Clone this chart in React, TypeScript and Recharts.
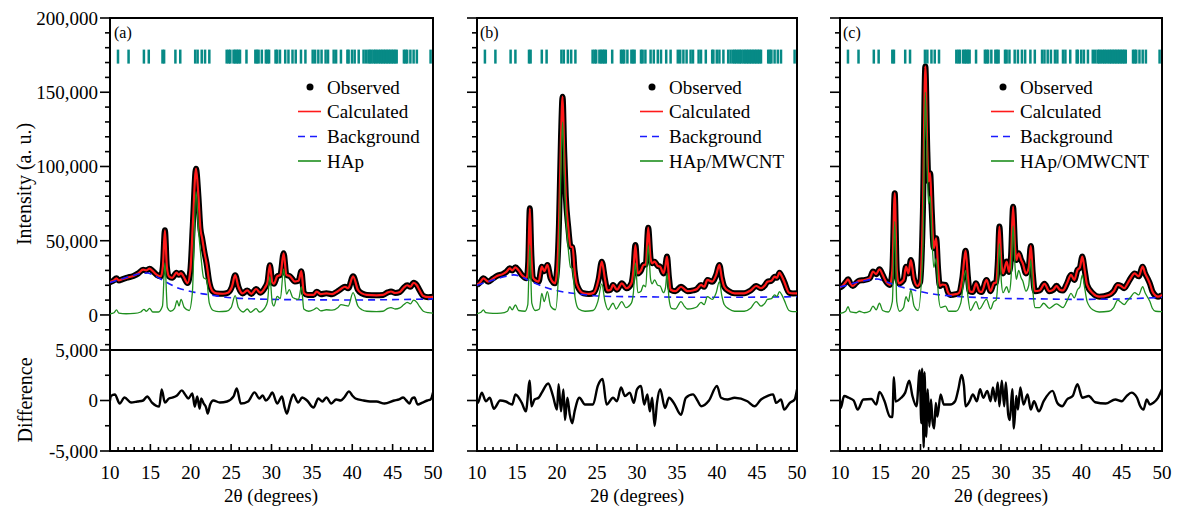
import React from 'react';
import { ComposedChart, LineChart, Line, XAxis, YAxis, Scatter, ReferenceArea } from 'recharts';

type P = [number, number][];

// ---------- common ----------
const X_TICKS = [10,11,12,13,14,15,16,17,18,19,20,21,22,23,24,25,26,27,28,29,30,31,32,33,34,35,36,37,38,39,40,41,42,43,44,45,46,47,48,49,50];
const Y_TICKS_TOP = [-20000,-10000,0,10000,20000,30000,40000,50000,60000,70000,80000,90000,100000,110000,120000,130000,140000,150000,160000,170000,180000,190000,200000];
const Y_TICKS_DIFF = [-5000,-2500,0,2500,5000];
const BRAGG = [10.99,12.3,14.2,14.8,16.5,16.7,18.1,18.7,20.55,20.85,21.36,21.77,22.3,24.45,24.7,24.9,25.3,25.5,25.7,25.9,26.1,26.9,28.0,28.2,28.4,28.8,29.3,29.5,29.7,30.5,30.7,31.05,31.7,32.1,32.6,33.0,33.65,34.2,35.1,35.4,35.8,36.2,36.7,37.0,37.7,38.0,38.6,39.4,39.55,39.97,40.3,40.8,41.4,41.7,42.0,42.2,42.4,42.65,42.85,43.05,43.3,43.5,43.7,43.9,44.1,44.3,44.5,44.7,44.9,45.1,45.3,45.5,46.4,46.6,46.8,47.2,47.6,48.0,49.7];
const BRAGG_LEVEL = 174000;

// ---------- panel (a) HAp ----------
const OBS_A: P = [[10.0,22000],[10.4,23000],[10.8,24700],[11.1,23200],[11.5,24000],[12.2,25200],[12.9,26300],[13.5,28000],[14.1,30500],[14.5,30000],[14.9,31200],[15.3,29500],[15.8,27000],[16.3,26000],[16.55,33000],[16.8,57000],[17.05,32000],[17.3,26000],[17.7,25000],[18.25,28500],[18.5,27000],[18.8,28200],[19.1,26000],[19.6,21500],[19.95,30000],[20.25,60000],[20.65,98500],[20.95,80000],[21.2,58000],[21.4,52000],[21.7,42000],[21.95,35000],[22.3,22000],[22.7,16000],[23.2,14500],[24.0,14300],[24.6,15000],[25.1,19000],[25.5,26800],[25.9,19000],[26.4,14500],[27.0,16500],[27.5,14200],[28.1,17500],[28.6,15000],[29.2,18500],[29.5,22000],[29.8,33500],[30.1,22000],[30.3,21000],[30.7,26000],[31.1,27000],[31.5,41500],[31.85,27000],[32.3,26000],[32.9,22500],[33.35,23000],[33.7,29500],[34.0,15000],[34.5,13500],[35.2,13500],[35.6,15700],[36.1,14000],[36.8,14600],[37.5,14000],[38.2,16000],[38.6,17500],[39.1,19000],[39.5,18000],[40.1,26000],[40.7,17000],[41.2,14500],[41.8,13500],[43.0,13200],[43.8,13500],[44.4,15200],[44.8,15800],[45.3,14800],[45.9,15500],[46.4,18500],[46.8,20000],[47.2,19000],[47.6,21700],[48.0,20000],[48.3,17000],[48.8,12800],[49.4,12000],[50.0,12200]];
const CALC_A: P = OBS_A;
const BG_A: P = [[10,21800],[11,23500],[12,25200],[13,26800],[14,28000],[14.6,28300],[15.5,26500],[16.5,23500],[17.5,20500],[18.5,18000],[19.5,16500],[20.5,15200],[21.5,14200],[23,13000],[25,11600],[27.5,10900],[30,10500],[35,10200],[40,10100],[45,10300],[50,10800]];
const PHASE_A: P = [[10,800],[10.5,1500],[10.8,3400],[11.1,1200],[12,800],[13,1000],[13.8,2000],[14.2,3800],[14.5,2500],[14.9,4500],[15.3,2000],[16.0,2000],[16.5,6000],[16.8,35000],[17.1,5000],[17.5,2500],[18.0,4500],[18.3,9600],[18.55,6000],[18.8,10500],[19.2,5000],[19.8,3000],[20.2,15000],[20.65,83000],[20.95,58000],[21.25,40000],[21.6,25000],[21.95,24000],[22.3,8000],[22.8,3000],[23.5,2200],[24.4,2500],[25.0,5000],[25.5,13000],[25.9,5000],[26.5,2000],[27.0,4000],[27.4,1800],[28.1,4200],[28.5,2000],[29.2,5000],[29.5,9000],[29.8,25800],[30.1,8000],[30.3,6000],[30.7,12500],[31.1,11000],[31.5,31000],[31.85,14000],[32.2,17000],[32.6,12000],[32.9,11000],[33.35,10500],[33.7,19000],[34.0,4000],[34.6,2500],[35.2,3500],[35.6,4800],[36.1,2800],[36.8,3500],[37.5,3200],[38.2,4800],[38.6,7000],[39.1,6500],[39.5,6000],[40.1,15000],[40.7,6000],[41.2,3500],[41.8,2500],[43.0,2200],[43.8,2500],[44.4,4500],[44.8,5000],[45.3,4000],[45.9,4800],[46.4,7000],[46.8,8500],[47.2,7500],[47.6,10000],[48.0,8500],[48.3,6000],[48.8,2500],[49.4,1500],[50,1200]];
const DIFF_A: P = [[10.0,0],[10.1,430],[10.6,600],[11.2,-300],[11.8,300],[12.6,-200],[13.4,-100],[14.1,0],[14.6,400],[15.2,-200],[16.1,-600],[16.4,1100],[16.8,-200],[17.3,200],[17.8,300],[18.3,500],[18.9,1000],[19.3,600],[19.7,200],[20.2,700],[20.5,-600],[20.8,400],[21.1,-800],[21.3,200],[21.6,-300],[21.9,-700],[22.1,-1300],[22.4,-400],[22.8,0],[23.6,-200],[24.5,-100],[25.3,400],[25.7,1200],[26.2,-300],[27.1,-100],[27.9,800],[28.5,200],[28.9,500],[29.3,0],[29.7,300],[30.1,800],[30.7,-300],[31.3,400],[31.6,-600],[31.9,-1300],[32.3,-200],[32.7,600],[33.3,-200],[33.8,300],[34.4,0],[35.2,-700],[35.8,200],[36.3,-100],[36.8,300],[37.4,-300],[38.0,100],[38.6,0],[39.0,300],[39.6,900],[40.0,500],[40.4,200],[41.4,0],[42.2,-100],[43.0,-100],[44.0,-300],[45.2,0],[45.8,100],[46.3,300],[46.7,0],[47.1,-300],[47.4,200],[47.7,300],[48.1,-400],[48.7,-200],[49.3,0],[49.7,100],[50.0,800]];

// ---------- panel (b) HAp/MWCNT ----------
const OBS_B: P = [[10.0,20200],[10.4,22000],[10.8,24700],[11.4,22400],[12.0,24500],[12.5,26300],[13.2,27500],[13.7,29200],[14.1,31400],[14.4,30000],[14.8,32100],[15.2,30000],[15.6,26900],[16.2,24700],[16.4,35000],[16.6,71800],[16.8,40000],[17.0,25000],[17.4,23000],[17.7,22400],[18.1,32500],[18.4,29500],[18.8,33700],[19.2,24700],[19.75,21300],[20.0,30000],[20.25,62000],[20.5,120000],[20.7,147000],[20.9,110000],[21.1,80000],[21.4,59500],[21.7,46000],[21.95,45600],[22.2,30000],[22.5,20200],[23.3,14600],[24.0,14200],[24.6,15000],[25.2,24000],[25.6,35900],[26.0,24000],[26.3,16500],[26.7,17000],[27.0,20200],[27.5,17000],[28.1,21300],[28.7,18000],[29.3,21300],[29.55,30000],[29.8,47100],[30.1,28000],[30.5,30000],[30.8,33700],[31.1,34000],[31.4,58800],[31.7,38000],[31.9,34800],[32.2,35900],[32.6,33000],[32.9,32500],[33.3,28000],[33.55,33000],[33.75,39300],[34.0,25000],[34.2,17000],[34.8,16000],[35.5,19000],[35.9,17500],[36.3,16000],[37.0,16500],[37.5,17500],[38.0,20200],[38.4,19000],[38.8,23600],[39.4,22400],[39.9,27000],[40.3,33700],[40.6,25000],[40.9,19000],[41.5,16000],[42.2,14600],[43.4,14600],[44.2,16500],[44.9,19500],[45.5,18000],[46.0,20000],[46.3,22400],[46.8,23000],[47.2,25800],[47.5,25000],[47.8,28500],[48.1,26000],[48.4,22400],[49.0,15000],[49.5,14500],[50.0,14600]];
const CALC_B: P = OBS_B;
const BG_B: P = [[10,20000],[11,21800],[12,23500],[13,25200],[14,26500],[14.6,27000],[15.5,25800],[16.5,23200],[17.5,20800],[18.5,18600],[19.5,17000],[20.5,15800],[22,14600],[23.5,13600],[25,12800],[27.5,12400],[30,12300],[35,12000],[40,11900],[45,12000],[50,12300]];
const PHASE_B: P = [[10,900],[10.5,1800],[10.8,3400],[11.1,1500],[12,1000],[13,1200],[13.8,2500],[14.1,5600],[14.4,3500],[14.8,6700],[15.2,3000],[16.0,2500],[16.35,7000],[16.6,47000],[16.85,8000],[17.3,3000],[17.8,4000],[18.1,14600],[18.4,9000],[18.8,15700],[19.2,6000],[19.8,3500],[20.2,30000],[20.5,100000],[20.7,130000],[20.9,95000],[21.1,68000],[21.4,45000],[21.7,32000],[21.95,31000],[22.25,12000],[22.7,4000],[23.5,2500],[24.5,3000],[25.1,9000],[25.6,21000],[26.0,9000],[26.4,3500],[27.0,7900],[27.4,4000],[28.1,9000],[28.6,5000],[29.3,8000],[29.55,15000],[29.8,35000],[30.1,15000],[30.5,16000],[30.8,20000],[31.1,19000],[31.4,47000],[31.7,24000],[31.9,21000],[32.2,23600],[32.6,20000],[32.9,19500],[33.3,15000],[33.55,18000],[33.75,28000],[34.0,11000],[34.3,4500],[34.8,4000],[35.5,9000],[35.9,6000],[36.3,4000],[37.0,4500],[37.5,5500],[38.0,8500],[38.4,7000],[38.8,12300],[39.4,10500],[39.9,15000],[40.3,22400],[40.6,13000],[40.9,7000],[41.5,4000],[42.2,2500],[43.4,2500],[44.2,4500],[44.9,9000],[45.5,6000],[46.0,8000],[46.3,10500],[46.8,11000],[47.2,13500],[47.5,12500],[47.8,15700],[48.1,13500],[48.4,10000],[49.0,3000],[49.5,2200],[50,2200]];
const DIFF_B: P = [[10.0,0],[10.1,-240],[10.6,780],[11.1,-70],[11.6,270],[12.1,-810],[12.9,0],[13.6,-100],[14.4,-400],[14.8,600],[15.6,-240],[16.1,-1080],[16.6,1960],[16.8,-570],[17.2,100],[17.7,270],[18.1,780],[18.9,1690],[19.5,440],[20.0,-900],[20.2,1620],[20.5,-1080],[20.8,1100],[21.0,-1930],[21.3,270],[21.6,-1420],[21.9,-2260],[22.2,-1080],[22.8,270],[23.5,-400],[24.5,-400],[25.1,1450],[25.7,2130],[26.2,-400],[27.0,270],[27.5,-70],[28.0,1280],[28.5,440],[29.1,780],[29.6,-240],[30.0,1110],[30.5,1450],[30.9,-400],[31.3,610],[31.6,-1080],[31.9,270],[32.2,-2530],[32.5,-240],[32.9,1110],[33.5,-740],[34.0,270],[34.6,-240],[35.5,-1420],[36.1,270],[37.0,610],[37.6,-70],[38.0,-570],[39.0,0],[40.0,1450],[40.5,270],[41.3,100],[42.2,270],[43.8,-70],[44.7,-570],[45.5,100],[46.3,440],[47.0,610],[47.4,-240],[48.0,100],[48.4,-900],[49.1,-240],[49.7,100],[50.0,1100]];

// ---------- panel (c) HAp/OMWCNT ----------
const OBS_C: P = [[10.0,18500],[10.3,19500],[10.7,22000],[11.0,24000],[11.3,21000],[11.6,19500],[12.0,21500],[12.4,23100],[13.0,23500],[13.7,24700],[14.1,29200],[14.5,27500],[14.9,30800],[15.3,27000],[15.6,23500],[16.2,20200],[16.5,30000],[16.8,82000],[17.05,30000],[17.3,21300],[17.9,23600],[18.2,32500],[18.5,28000],[18.8,37000],[19.2,24000],[19.6,19500],[19.95,22000],[20.3,70000],[20.6,167500],[20.85,110000],[21.0,90000],[21.2,95500],[21.4,70000],[21.65,45000],[21.95,51600],[22.2,30000],[22.4,19500],[22.7,20500],[23.1,20200],[23.4,15500],[23.7,13500],[24.4,14000],[24.8,15000],[25.2,25000],[25.6,43300],[25.9,25000],[26.1,16000],[26.5,15500],[26.9,21300],[27.3,16000],[27.6,15500],[28.2,23600],[28.7,16000],[29.1,21300],[29.4,22000],[29.6,35000],[29.8,59500],[30.05,35000],[30.25,28000],[30.7,36000],[31.0,29000],[31.25,40000],[31.5,72900],[31.75,45000],[31.9,37000],[32.2,41500],[32.5,37000],[32.7,34800],[33.1,28000],[33.45,32000],[33.7,46500],[33.95,28000],[34.2,16000],[34.8,16500],[35.4,21000],[36.0,16000],[36.5,17000],[36.9,19600],[37.3,17000],[37.7,16500],[38.2,21300],[38.7,27000],[39.1,23600],[39.5,30300],[39.8,32000],[40.1,39300],[40.4,30000],[40.7,20200],[41.4,14600],[42.2,12300],[43.4,13500],[44.0,16000],[44.5,20200],[44.9,19500],[45.3,18000],[45.7,21000],[46.1,24700],[46.6,28000],[47.1,26000],[47.6,32500],[47.9,28000],[48.2,24700],[48.5,21000],[48.8,16000],[49.2,13000],[49.5,12300],[50.0,13500]];
const CALC_C: P = OBS_C;
const BG_C: P = [[10,18800],[11,20300],[12,21800],[13,23000],[14,24000],[14.6,24200],[15.5,22800],[16.5,20800],[17.5,19000],[18.5,17600],[19.5,16300],[21,14600],[23,13200],[25,12300],[27.5,11700],[30,11200],[35,10800],[40,10500],[45,10800],[50,11900]];
const PHASE_C: P = [[10,1000],[10.7,2500],[11.0,5600],[11.3,2000],[12.0,1500],[12.4,2500],[13.0,1500],[13.7,2500],[14.1,6000],[14.5,3500],[14.9,7900],[15.3,3000],[16.0,2000],[16.5,9000],[16.8,63000],[17.05,9000],[17.4,2500],[17.9,5000],[18.2,12300],[18.5,9000],[18.8,16800],[19.2,6000],[19.7,3000],[20.3,45000],[20.6,150000],[20.85,95000],[21.0,75000],[21.2,80000],[21.4,55000],[21.65,32000],[21.95,38000],[22.2,15000],[22.5,5000],[23.1,6000],[23.5,2500],[24.4,2500],[25.0,8000],[25.6,30000],[25.9,12000],[26.2,3000],[26.9,9000],[27.3,4000],[28.2,10500],[28.7,4000],[29.1,9000],[29.4,10000],[29.6,22000],[29.8,48000],[30.05,22000],[30.25,15000],[30.7,19000],[31.0,15000],[31.25,25000],[31.5,60000],[31.75,32000],[31.9,24000],[32.2,30000],[32.5,25000],[32.7,23000],[33.1,16000],[33.45,20000],[33.7,37000],[33.95,17000],[34.2,5000],[34.8,5000],[35.3,7900],[36.0,4500],[36.9,7500],[37.7,5000],[38.2,9500],[38.7,14600],[39.1,11500],[39.5,17000],[39.8,19000],[40.1,27000],[40.4,18000],[40.7,9000],[41.4,3500],[42.2,2000],[43.4,2500],[44.0,5000],[44.5,10000],[44.9,8500],[45.3,7000],[45.7,9500],[46.1,12000],[46.6,15000],[47.1,13500],[47.6,19000],[47.9,15000],[48.2,12000],[48.5,9000],[48.8,4500],[49.2,2500],[50,2200]];
const DIFF_C: P = [[10.0,0],[10.1,-740],[10.5,440],[11.1,270],[11.7,0],[12.2,-900],[12.9,100],[13.9,150],[14.5,-400],[14.9,850],[15.5,0],[16.2,-1590],[16.5,-1650],[16.7,2300],[16.9,-100],[17.6,270],[18.1,780],[18.6,1960],[19.0,440],[19.5,-570],[19.9,2970],[20.1,-2260],[20.2,3140],[20.4,-4630],[20.5,2800],[20.7,-3600],[20.9,1100],[21.1,-2600],[21.3,100],[21.5,-2100],[21.7,-2770],[21.9,-250],[22.1,-1590],[22.5,600],[22.9,-400],[23.7,-400],[24.3,-70],[24.7,1110],[25.1,2530],[25.4,1450],[25.6,-570],[26.1,-70],[26.5,610],[27.0,-70],[27.4,1110],[27.8,270],[28.3,950],[28.7,-70],[29.0,1280],[29.3,-70],[29.6,1790],[29.8,-570],[30.1,1960],[30.4,-570],[30.6,1790],[30.9,-1420],[31.1,-1930],[31.4,1110],[31.6,-2770],[31.9,440],[32.1,-900],[32.4,1280],[32.8,-400],[33.3,610],[33.7,-900],[34.1,-70],[34.7,-1080],[35.3,-70],[36.4,950],[37.0,-240],[37.6,-570],[38.2,100],[38.9,440],[39.5,1620],[40.1,270],[40.9,440],[41.7,-170],[43.0,-300],[44.2,100],[45.0,-70],[45.6,440],[46.2,780],[46.9,270],[47.3,-570],[47.7,-900],[48.1,100],[48.5,-400],[48.9,-240],[49.5,270],[50.0,1110]];

// ---------- styling ----------
const FONT = "'Liberation Serif', 'Times New Roman', serif";
const TEAL = '#078a86';
const RED = '#ff1a1a';
const BLUE = '#1a1aff';
const GREEN = '#1f8f1f';

const rows = (a: P) => a.map(([t, v]) => ({ t, v }));
const fmt = (v: number) => v.toLocaleString('en-US');

const makeYTick = (majorStep: number, showLabels: boolean) => (props: any) => {
  const { x, y, payload } = props;
  const v = payload.value as number;
  const major = v % majorStep === 0;
  return (
    <g>
      <line x1={x} x2={x - (major ? 10 : 5)} y1={y} y2={y} stroke="#000" strokeWidth={1.6} />
      {showLabels && major ? (
        <text x={x - 12} y={y} dy="0.36em" textAnchor="end" fontSize={19} fontFamily={FONT} fill="#000">{fmt(v)}</text>
      ) : null}
    </g>
  );
};

const XTickBottom = (props: any) => {
  const { x, y, payload } = props;
  const major = payload.value % 5 === 0;
  return (
    <g>
      <line x1={x} x2={x} y1={y} y2={y - (major ? 7 : 4)} stroke="#000" strokeWidth={1.6} />
      {major ? (
        <text x={x} y={y + 21} dy="0.36em" textAnchor="middle" fontSize={19} fontFamily={FONT} fill="#000">{payload.value}</text>
      ) : null}
    </g>
  );
};

const XTickTop = (props: any) => {
  const { x, y, payload } = props;
  const major = payload.value % 5 === 0;
  return <line x1={x} x2={x} y1={y} y2={y + (major ? 7 : 4)} stroke="#000" strokeWidth={1.6} />;
};

const BraggMark = (p: any) => <rect x={p.cx - 1.25} y={p.cy - 7} width={2.5} height={14} fill={TEAL} />;

type PanelProps = {
  L: number; W: number; padL: number; labels: boolean;
  obs: P; calc: P; bg: P; phase: P; diff: P;
};

const TOP_Y = 18;
const TOP_H = 332;
const DIFF_H = 101;
const X_AXIS_H = 62;
const DIFF_MT = 14;
const RIGHT_PAD = 16;

function Panel({ L, W, padL, labels, obs, calc, bg, phase, diff }: PanelProps) {
  const braggRows = BRAGG.map((t) => ({ t, v: BRAGG_LEVEL }));
  return (
    <>
      <div style={{ position: 'absolute', left: L - padL, top: TOP_Y - 12 }}>
        <ComposedChart width={padL + W + 3} height={12 + TOP_H + 2} margin={{ top: 12, right: 3, bottom: 2, left: 0 }}>
          <XAxis dataKey="t" type="number" domain={[10, 50]} allowDataOverflow hide />
          <YAxis type="number" domain={[-23600, 200000]} allowDataOverflow width={padL} ticks={Y_TICKS_TOP} interval={0}
            tickSize={0} tickMargin={0} tickLine={false} axisLine={false} tick={makeYTick(50000, labels)} />
          <Scatter data={braggRows} dataKey="v" shape={BraggMark} isAnimationActive={false} />
          <Line data={rows(obs)} dataKey="v" type="monotone" stroke="#000" strokeWidth={6} dot={false} isAnimationActive={false} />
          <Line data={rows(calc)} dataKey="v" type="monotone" stroke={RED} strokeWidth={2.2} dot={false} isAnimationActive={false} />
          <Line data={rows(bg)} dataKey="v" type="monotone" stroke={BLUE} strokeWidth={1.6} strokeDasharray="7 5" dot={false} isAnimationActive={false} />
          <Line data={rows(phase)} dataKey="v" type="monotone" stroke={GREEN} strokeWidth={1.3} dot={false} isAnimationActive={false} />
          <ReferenceArea x1={10} x2={50} y1={-23600} y2={200000} fill="none" stroke="#000" strokeWidth={2} />
        </ComposedChart>
      </div>
      <div style={{ position: 'absolute', left: L - padL, top: TOP_Y + TOP_H - DIFF_MT }}>
        <LineChart width={padL + W + RIGHT_PAD} height={DIFF_MT + DIFF_H + X_AXIS_H} margin={{ top: DIFF_MT, right: RIGHT_PAD, bottom: 0, left: 0 }}>
          <XAxis xAxisId="b" dataKey="t" type="number" domain={[10, 50]} allowDataOverflow ticks={X_TICKS} interval={0}
            height={X_AXIS_H} tickSize={0} tickMargin={0} tickLine={false} axisLine={false} tick={XTickBottom} />
          <XAxis xAxisId="top" orientation="top" dataKey="t" type="number" domain={[10, 50]} allowDataOverflow ticks={X_TICKS} interval={0}
            height={0} tickSize={0} tickMargin={0} tickLine={false} axisLine={false} tick={XTickTop} />
          <YAxis type="number" domain={[-5000, 5000]} allowDataOverflow width={padL} ticks={Y_TICKS_DIFF} interval={0}
            tickSize={0} tickMargin={0} tickLine={false} axisLine={false} tick={makeYTick(5000, labels)} />
          <Line xAxisId="b" data={rows(diff)} dataKey="v" type="monotone" stroke="#000" strokeWidth={2.4} dot={false} isAnimationActive={false} />
          <ReferenceArea xAxisId="b" x1={10} x2={50} y1={-5000} y2={5000} fill="none" stroke="#000" strokeWidth={2} />
        </LineChart>
      </div>
    </>
  );
}

type LegendSpec = { x: number; tag: string; tagX: number; phaseName: string; cx: number };
const LEGENDS: LegendSpec[] = [
  { x: 298, tag: '(a)', tagX: 114, phaseName: 'HAp', cx: 271 },
  { x: 640, tag: '(b)', tagX: 480, phaseName: 'HAp/MWCNT', cx: 637 },
  { x: 991, tag: '(c)', tagX: 843, phaseName: 'HAp/OMWCNT', cx: 1001 },
];
const ROWS_Y = [87, 111.5, 136.5, 161];

export default function App() {
  return (
    <div style={{ position: 'absolute', left: 0, top: 0, width: 1177, height: 513, background: '#fff', fontFamily: FONT }}>
      <Panel L={110} W={323} padL={110} labels obs={OBS_A} calc={CALC_A} bg={BG_A} phase={PHASE_A} diff={DIFF_A} />
      <Panel L={477} W={320} padL={20} labels={false} obs={OBS_B} calc={CALC_B} bg={BG_B} phase={PHASE_B} diff={DIFF_B} />
      <Panel L={840} W={322} padL={20} labels={false} obs={OBS_C} calc={CALC_C} bg={BG_C} phase={PHASE_C} diff={DIFF_C} />
      <svg width={1177} height={513} style={{ position: 'absolute', left: 0, top: 0, pointerEvents: 'none' }}>
        <text transform="translate(24,184) rotate(-90)" textAnchor="middle" dy="0.35em" fontSize={20} fontFamily={FONT}>Intensity (a. u.)</text>
        <text transform="translate(25,400) rotate(-90)" textAnchor="middle" dy="0.35em" fontSize={20} fontFamily={FONT}>Difference</text>
        {LEGENDS.map((lg, i) => (
          <g key={i} fontFamily={FONT} fontSize={19} fill="#000">
            <text x={lg.tagX} y={32} dy="0.35em" fontSize={16}>{lg.tag}</text>
            <text x={lg.cx} y={495} dy="0.35em" textAnchor="middle">2θ (degrees)</text>
            <circle cx={lg.x + 12} cy={ROWS_Y[0]} r={3.5} fill="#000" />
            <line x1={lg.x} x2={lg.x + 23} y1={ROWS_Y[1]} y2={ROWS_Y[1]} stroke={RED} strokeWidth={1.6} />
            <line x1={lg.x} x2={lg.x + 23} y1={ROWS_Y[2]} y2={ROWS_Y[2]} stroke={BLUE} strokeWidth={1.6} strokeDasharray="7 5" />
            <line x1={lg.x} x2={lg.x + 23} y1={ROWS_Y[3]} y2={ROWS_Y[3]} stroke={GREEN} strokeWidth={1.6} />
            <text x={lg.x + 29} y={ROWS_Y[0]} dy="0.35em">Observed</text>
            <text x={lg.x + 29} y={ROWS_Y[1]} dy="0.35em">Calculated</text>
            <text x={lg.x + 29} y={ROWS_Y[2]} dy="0.35em">Background</text>
            <text x={lg.x + 29} y={ROWS_Y[3]} dy="0.35em">{lg.phaseName}</text>
          </g>
        ))}
      </svg>
    </div>
  );
}
